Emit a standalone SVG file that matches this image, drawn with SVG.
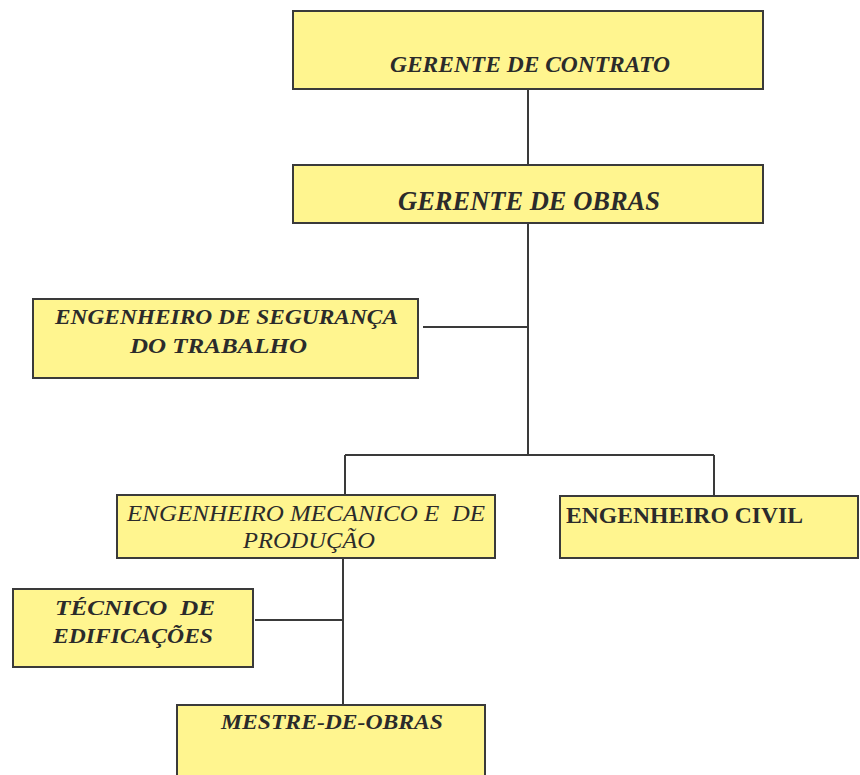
<svg xmlns="http://www.w3.org/2000/svg" width="860" height="775" viewBox="0 0 860 775">
<style>
.box{fill:#fff58f;stroke:#3a3a3a;stroke-width:2}
.c{fill:none;stroke:#3a3a3a;stroke-width:2}
</style>
<rect width="860" height="775" fill="#ffffff"/>
<g id="connectors">
<path class="c" d="M528 89V165M528 223V455M423 327H528M345 455H714M345 455V495M714 455V496M343 558V705M255 620H343"/>
</g>
<g fill="#2b2b2b">
<g id="gerente-contrato">
<rect class="box" x="293" y="11" width="470" height="78"/>
<text x="390" y="72" font-family="Liberation Serif" font-size="23" font-style="italic" font-weight="bold" textLength="280" lengthAdjust="spacingAndGlyphs">GERENTE DE CONTRATO</text>
</g>
<g id="gerente-obras">
<rect class="box" x="293" y="165" width="470" height="58"/>
<text x="398" y="210" font-family="Liberation Serif" font-size="28" font-style="italic" font-weight="bold" textLength="262" lengthAdjust="spacingAndGlyphs">GERENTE DE OBRAS</text>
</g>
<g id="eng-seguranca">
<rect class="box" x="33" y="299" width="385" height="79"/>
<text x="55" y="324" font-family="Liberation Serif" font-size="21" font-style="italic" font-weight="bold" textLength="343" lengthAdjust="spacingAndGlyphs">ENGENHEIRO DE SEGURANÇA</text>
<text x="130" y="353" font-family="Liberation Serif" font-size="21" font-style="italic" font-weight="bold" textLength="177" lengthAdjust="spacingAndGlyphs">DO TRABALHO</text>
</g>
<g id="eng-mecanico">
<rect class="box" x="117" y="495" width="378" height="63"/>
<text x="127" y="521" font-family="Liberation Serif" font-size="24" font-style="italic" textLength="358" lengthAdjust="spacingAndGlyphs" xml:space="preserve">ENGENHEIRO MECANICO E  DE</text>
<text x="243" y="548" font-family="Liberation Serif" font-size="24" font-style="italic" textLength="132" lengthAdjust="spacingAndGlyphs">PRODUÇÃO</text>
</g>
<g id="eng-civil">
<rect class="box" x="560" y="496" width="298" height="62"/>
<text x="566" y="523" font-family="Liberation Serif" font-size="24" font-weight="bold" textLength="237" lengthAdjust="spacingAndGlyphs">ENGENHEIRO CIVIL</text>
</g>
<g id="tecnico">
<rect class="box" x="13" y="589" width="240" height="78"/>
<text x="55" y="615" font-family="Liberation Serif" font-size="22" font-style="italic" font-weight="bold" textLength="160" lengthAdjust="spacingAndGlyphs" xml:space="preserve">TÉCNICO  DE</text>
<text x="53" y="643" font-family="Liberation Serif" font-size="22" font-style="italic" font-weight="bold" textLength="160" lengthAdjust="spacingAndGlyphs">EDIFICAÇÕES</text>
</g>
<g id="mestre">
<rect class="box" x="177" y="705" width="308" height="80"/>
<text x="221" y="729" font-family="Liberation Serif" font-size="21" font-style="italic" font-weight="bold" textLength="222" lengthAdjust="spacingAndGlyphs">MESTRE-DE-OBRAS</text>
</g>
</g>
</svg>
